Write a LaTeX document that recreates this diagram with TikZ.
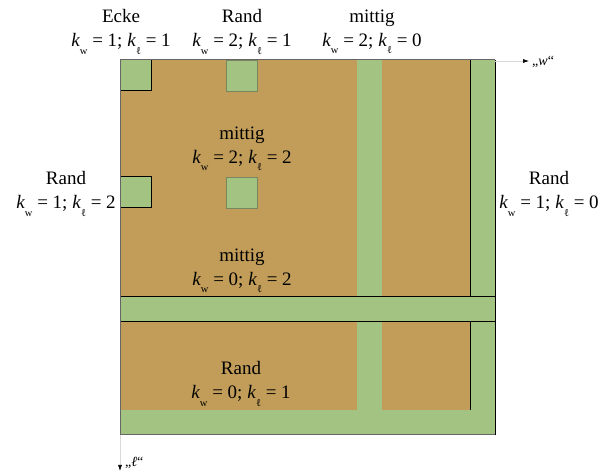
\documentclass[tikz,border=0pt]{standalone}
\usepackage{fontspec}
\setmainfont{Liberation Serif}
\usetikzlibrary{arrows.meta}
\definecolor{grn}{RGB}{163,195,130}
\definecolor{brn}{RGB}{193,157,89}
\definecolor{softedge}{RGB}{120,135,95}
\newcommand\kx[1]{\textit{k}\raisebox{-0.38em}{\fontsize{10.5}{10.5}\selectfont #1}}
\begin{document}
\begin{tikzpicture}[x=1pt,y=-1pt,
  lbl/.style={align=center,font=\fontsize{19}{24}\selectfont,inner sep=0pt},
  edge/.style={line width=1pt,black},
  soft/.style={line width=0.8pt,softedge},
  outer/.style={line width=1pt,black!60},
  axis/.style={line width=0.6pt,black!15,-{Latex[length=6pt,width=4pt,color=black]}},
  axlbl/.style={font=\fontsize{14}{14}\selectfont,inner sep=0pt,anchor=west}]
\useasboundingbox (0,0) rectangle (606,473);
% areas
\fill[brn] (120,60) rectangle (495,435);
\fill[grn] (470,60) rectangle (495,435);
\fill[grn] (120,410) rectangle (495,435);
\fill[grn] (120,297) rectangle (495,322);
\fill[grn] (357,60) rectangle (382,410);
\fill[grn] (120,60) rectangle (151,91);
\fill[grn] (226,60) rectangle (257,91);
\fill[grn] (120,177) rectangle (151,208);
\fill[grn] (226,177) rectangle (257,208);
% edges
\draw[edge] (151,60) -- (151,91) -- (120,91);
\draw[edge] (120,177) -- (151,177) -- (151,208) -- (120,208);
\draw[soft] (226,60) rectangle (257,91);
\draw[soft] (226,177) rectangle (257,208);
\draw[edge] (120,297) -- (495,297);
\draw[edge] (120,322) -- (495,322);
\draw[edge] (470,60) -- (470,297);
\draw[edge] (470,322) -- (470,410);
\draw[outer] (120,435) -- (120,60) -- (495,60);
\draw[outer] (120,435) -- (495,435);
\draw[edge] (495,60) -- (495,435);
% axes
\coordinate (o) at (120,60);
\coordinate (wend) at (529,61);
\coordinate (lend) at (120,471);
\draw[axis] (495,61) -- (wend);
\draw[axis] (120,435) -- (lend);
\node[axlbl] (wl) at (532,62) {„\textit{w}“};
\node[axlbl] (ll) at (125,463) {„\textit{ℓ}“};
% labels
\node[lbl] (ecke) at (121,32) {Ecke\\\kx{w} = 1; \kx{ℓ} = 1};
\node[lbl] (randtop) at (242,32) {Rand\\\kx{w} = 2; \kx{ℓ} = 1};
\node[lbl] (mittigtop) at (372,32) {mittig\\\kx{w} = 2; \kx{ℓ} = 0};
\node[lbl] (mittigc) at (242,149) {mittig\\\kx{w} = 2; \kx{ℓ} = 2};
\node[lbl] (mittigb) at (242,271) {mittig\\\kx{w} = 0; \kx{ℓ} = 2};
\node[lbl] (randbot) at (241,384) {Rand\\\kx{w} = 0; \kx{ℓ} = 1};
\node[lbl] (randl) at (66,194) {Rand\\\kx{w} = 1; \kx{ℓ} = 2};
\node[lbl] (randr) at (549,194) {Rand\\\kx{w} = 1; \kx{ℓ} = 0};
\end{tikzpicture}
\end{document}
